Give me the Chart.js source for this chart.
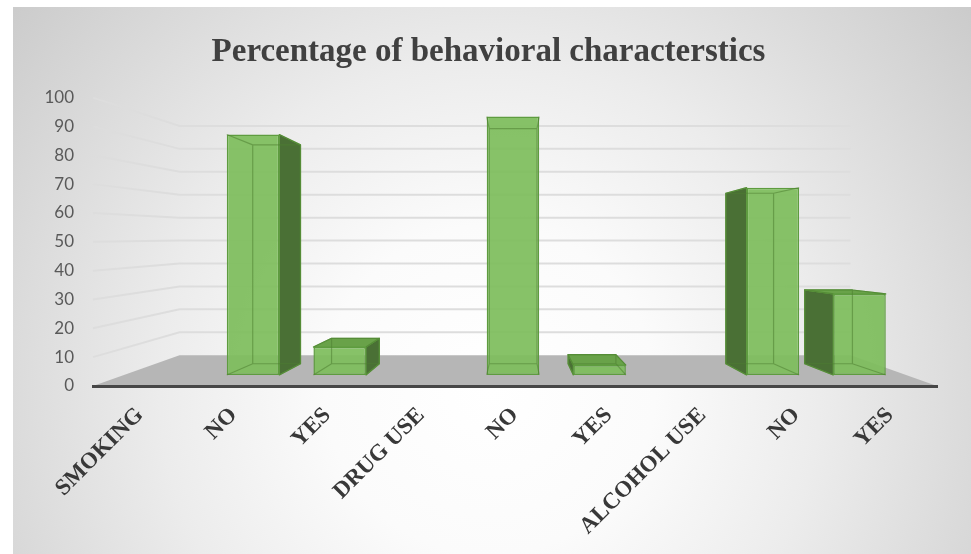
<!DOCTYPE html>
<html>
<head>
<meta charset="utf-8">
<title>Percentage of behavioral characterstics</title>
<script src="https://cdn.jsdelivr.net/npm/chart.js@4.4.1/dist/chart.umd.min.js"></script>
<style>
  html, body { margin: 0; padding: 0; background: #ffffff; }
  #wrap { width: 971px; height: 554px; position: relative; }
</style>
</head>
<body>
<div id="wrap"><canvas id="chart" width="971" height="554"></canvas></div>
<script>
// Category labels along the floor (group headings and their answers)
const categories = ['SMOKING', 'NO', 'YES', 'DRUG USE', 'NO', 'YES', 'ALCOHOL USE', 'NO', 'YES'];
// Percentage for each category (group headings carry no bar)
const percentages = [null, 89.6, 10.4, null, 96.3, 3.7, null, 69.8, 30.2];
// Value-axis tick labels
const yTickValues = [0, 10, 20, 30, 40, 50, 60, 70, 80, 90, 100];

// Perspective settings for the pseudo-3D look
const WALL_DEPTH = 0.795;   // scale of the back wall relative to the front plane
const WALL_EYE = 0.479;     // eye height for walls/floor, as a fraction of the plot height
const BAR_DEPTH = 0.91;     // scale of a column's back face relative to its front face
const BAR_EYE = 0.528;      // eye height for the columns

const COLORS = {
  front: 'rgba(126,189,92,0.93)',
  frontEdge: '#5e9c3f',
  side: '#4a7035',
  top: '#69a249',
  hidden: 'rgba(78,128,50,0.55)',
  floor: '#b6b6b6',
  grid: '#dddddd'
};

// Background, side wall, back wall grid and floor
const scenePlugin = {
  id: 'scene',
  beforeDraw(chart) {
    const { ctx, width, height, chartArea: a, scales } = chart;
    const y = scales.y;
    ctx.save();
    ctx.fillStyle = '#ffffff';
    ctx.fillRect(0, 0, width, height);
    const g = ctx.createRadialGradient(490, 390, 0, 490, 390, 660);
    g.addColorStop(0, '#ffffff');
    g.addColorStop(0.25, '#fbfbfb');
    g.addColorStop(0.5, '#ececec');
    g.addColorStop(0.75, '#d9d9d9');
    g.addColorStop(1, '#c6c6c6');
    ctx.fillStyle = g;
    ctx.fillRect(13, 7, width - 13, height - 7);

    const cx = (a.left + a.right) / 2;
    const vy = a.top + WALL_EYE * (a.bottom - a.top);
    const back = (px, py) => [cx + (px - cx) * WALL_DEPTH, vy + (py - vy) * WALL_DEPTH];

    ctx.lineWidth = 2;
    ctx.strokeStyle = COLORS.grid;
    yTickValues.forEach(v => {
      if (v === 0) return;
      const fy = y.getPixelForValue(v);
      const [bx0, by] = back(a.left, fy);
      const [bx1] = back(a.right, fy);
      ctx.beginPath();
      ctx.moveTo(a.left, fy);
      ctx.lineTo(bx0, by);
      ctx.lineTo(bx1, by);
      ctx.stroke();
    });

    const y0 = y.getPixelForValue(0);
    const [fbl, fby] = back(a.left, y0);
    const [fbr] = back(a.right, y0);
    ctx.fillStyle = COLORS.floor;
    ctx.beginPath();
    ctx.moveTo(a.left, y0);
    ctx.lineTo(fbl, fby);
    ctx.lineTo(fbr, fby);
    ctx.lineTo(a.right, y0);
    ctx.closePath();
    ctx.fill();
    ctx.restore();
  }
};

// Helper: corners of a column box from its bar element
function columnBox(chart, bar) {
  const a = chart.chartArea;
  const { x, y, base, width } = bar.getProps(['x', 'y', 'base', 'width'], true);
  const vx = (a.left + a.right) / 2;
  const vy = a.top + BAR_EYE * (a.bottom - a.top);
  const bx = px => vx + (px - vx) * BAR_DEPTH;
  const by = py => vy + (py - vy) * BAR_DEPTH;
  const x0 = x - width / 2, x1 = x + width / 2;
  return { x0, x1, yt: y, yb: base, X0: bx(x0), X1: bx(x1), YT: by(y), YB: by(base), vx, vy };
}

// Side and top faces, drawn behind the front faces
const columnsPlugin = {
  id: 'columns3d',
  beforeDatasetsDraw(chart) {
    const { ctx } = chart;
    const meta = chart.getDatasetMeta(0);
    ctx.save();
    ctx.lineJoin = 'round';
    meta.data.forEach(bar => {
      const b = columnBox(chart, bar);
      // side face
      const sx = b.x1 < b.vx ? b.x1 : (b.x0 > b.vx ? b.x0 : null);
      if (sx !== null) {
        const SX = sx === b.x1 ? b.X1 : b.X0;
        ctx.fillStyle = COLORS.side;
        ctx.strokeStyle = COLORS.frontEdge;
        ctx.lineWidth = 1.2;
        ctx.beginPath();
        ctx.moveTo(sx, b.yt);
        ctx.lineTo(SX, b.YT);
        ctx.lineTo(SX, b.YB);
        ctx.lineTo(sx, b.yb);
        ctx.closePath();
        ctx.fill();
        ctx.stroke();
      }
      // top face when seen from above
      if (b.yt > b.vy) {
        ctx.fillStyle = COLORS.top;
        ctx.strokeStyle = COLORS.frontEdge;
        ctx.lineWidth = 1.2;
        ctx.beginPath();
        ctx.moveTo(b.x0, b.yt);
        ctx.lineTo(b.x1, b.yt);
        ctx.lineTo(b.X1, b.YT);
        ctx.lineTo(b.X0, b.YT);
        ctx.closePath();
        ctx.fill();
        ctx.stroke();
      }
    });
    ctx.restore();
  },
  // back edges showing through the translucent front faces
  afterDatasetsDraw(chart) {
    const { ctx } = chart;
    const meta = chart.getDatasetMeta(0);
    ctx.save();
    ctx.strokeStyle = COLORS.hidden;
    ctx.lineWidth = 1.2;
    meta.data.forEach(bar => {
      const b = columnBox(chart, bar);
      ctx.beginPath();
      ctx.moveTo(b.X0, b.YT); ctx.lineTo(b.X1, b.YT);
      ctx.lineTo(b.X1, b.YB); ctx.lineTo(b.X0, b.YB); ctx.closePath();
      ctx.moveTo(b.x0, b.yt); ctx.lineTo(b.X0, b.YT);
      ctx.moveTo(b.x1, b.yt); ctx.lineTo(b.X1, b.YT);
      ctx.moveTo(b.x0, b.yb); ctx.lineTo(b.X0, b.YB);
      ctx.moveTo(b.x1, b.yb); ctx.lineTo(b.X1, b.YB);
      ctx.stroke();
    });
    ctx.restore();
  }
};

const points = percentages
  .map((v, i) => ({ x: i, y: v }))
  .filter(p => p.y !== null);

new Chart(document.getElementById('chart'), {
  type: 'bar',
  data: {
    labels: categories,
    datasets: [{
      data: points,
      xAxisID: 'xb',
      yAxisID: 'yb',
      backgroundColor: COLORS.front,
      borderColor: COLORS.frontEdge,
      borderWidth: 1.5,
      borderSkipped: false,
      barPercentage: 0.606,
      categoryPercentage: 1
    }]
  },
  options: {
    responsive: false,
    animation: false,
    layout: { padding: { top: 0, left: 40, right: 34, bottom: 0 } },
    plugins: {
      legend: { display: false },
      tooltip: { enabled: false },
      title: {
        display: true,
        text: 'Percentage of behavioral characterstics',
        color: '#404040',
        font: { family: 'Liberation Serif', size: 33, weight: 'bold', lineHeight: 1.2 },
        padding: { top: 33, bottom: 25 }
      }
    },
    scales: {
      x: {
        type: 'category',
        labels: categories,
        offset: true,
        grid: { display: false, drawTicks: false },
        border: { display: true, color: '#474747', width: 3 },
        ticks: {
          autoSkip: false,
          minRotation: 45,
          maxRotation: 45,
          padding: 16,
          color: '#383838',
          font: { family: 'Liberation Serif', size: 23, weight: 'bold' }
        },
        afterFit: s => { s.height = 168; }
      },
      y: {
        position: 'left',
        min: 0,
        max: 100,
        grid: { display: false, drawTicks: false },
        border: { display: false },
        ticks: {
          padding: 19,
          color: '#595959',
          font: { family: 'Lato', size: 17 }
        },
        afterBuildTicks: s => { s.ticks = yTickValues.map(v => ({ value: v })); },
        afterFit: s => { s.width = 53; }
      },
      xb: {
        type: 'linear',
        axis: 'x',
        display: false,
        offset: false,
        grid: { offset: false },
        min: -0.847,
        max: 8.894,
        ticks: { stepSize: 1, includeBounds: false }
      },
      yb: {
        type: 'linear',
        axis: 'y',
        display: false,
        min: -4.104,
        max: 103.36
      }
    }
  },
  plugins: [scenePlugin, columnsPlugin]
});
</script>
</body>
</html>
